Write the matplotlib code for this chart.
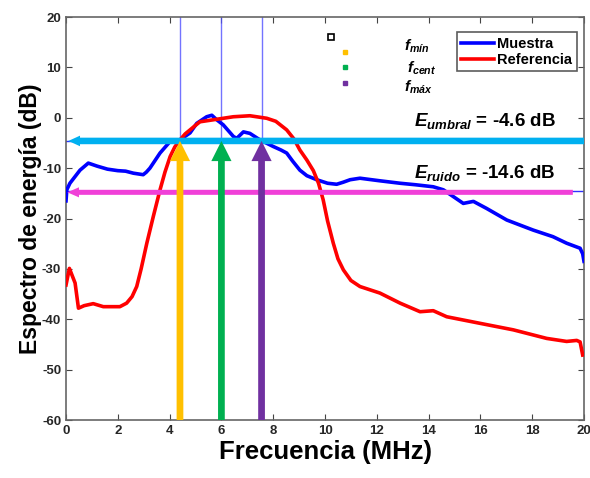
import matplotlib
matplotlib.use("Agg")
import matplotlib.pyplot as plt
import numpy as np

plt.rcParams['font.family'] = ['Liberation Sans', 'DejaVu Sans']
plt.rcParams['font.weight'] = 'bold'
plt.rcParams['axes.unicode_minus'] = False
plt.rcParams['mathtext.fontset'] = 'custom'
plt.rcParams['mathtext.it'] = 'Liberation Sans:italic:bold'
plt.rcParams['mathtext.rm'] = 'Liberation Sans:bold'
plt.rcParams['mathtext.bf'] = 'Liberation Sans:bold'

# espectro de la muestra (MHz, dB)
f_muestra = [0.0, 0.03, 0.15, 0.54, 0.86, 1.2, 1.6, 2.0, 2.3, 2.6, 2.98, 3.1, 3.24,
             3.63, 4.02, 4.40, 4.79, 5.05, 5.43, 5.63, 5.82, 6.07, 6.46, 6.59, 6.85,
             7.10, 7.49, 8.00, 8.3, 8.52, 8.75, 9.03, 9.3, 9.68, 10.1, 10.45, 10.7,
             10.97, 11.35, 12.1, 12.9, 13.5, 14.18, 14.57, 15.34, 15.73, 16.24, 17.02,
             18.04, 18.8, 19.33, 19.85, 19.95, 20.0]
e_muestra = [-16.5, -14.3, -13.0, -10.4, -9.0, -9.6, -10.2, -10.5, -10.6, -11.0, -11.3,
             -10.8, -10.0, -7.0, -4.7, -4.4, -3.0, -1.1, 0.2, 0.5, -0.4, -1.4, -3.7,
             -4.1, -2.8, -3.1, -4.4, -5.7, -6.4, -7.0, -8.6, -10.4, -11.5, -12.3, -13.0,
             -13.2, -12.8, -12.3, -12.0, -12.5, -13.0, -13.3, -13.7, -14.3, -17.0, -16.6,
             -18.0, -20.3, -22.3, -23.6, -24.9, -25.9, -27.0, -28.5]

# espectro de referencia (MHz, dB)
f_ref = [0.0, 0.13, 0.35, 0.48, 0.7, 1.05, 1.44, 2.08, 2.34, 2.55, 2.73, 2.9, 3.12,
         3.37, 3.63, 3.82, 4.02, 4.2, 4.40, 4.6, 4.79, 5.0, 5.17, 5.69, 6.46, 7.10,
         7.75, 8.1, 8.52, 8.8, 9.03, 9.3, 9.55, 9.75, 9.93, 10.1, 10.32, 10.5, 10.71,
         11.0, 11.35, 12.12, 12.9, 13.67, 14.18, 14.7, 15.98, 17.27, 18.56, 19.33,
         19.72, 19.85, 19.95]
e_ref = [-33.2, -29.9, -32.8, -37.8, -37.3, -36.9, -37.5, -37.5, -36.8, -35.5, -33.5,
         -30.0, -24.9, -19.6, -14.3, -10.8, -7.7, -5.8, -4.4, -3.2, -2.4, -1.5, -0.8,
         -0.4, 0.2, 0.4, -0.1, -0.7, -2.4, -4.2, -6.4, -8.4, -10.5, -13.0, -16.3,
         -20.5, -24.9, -28.0, -30.2, -32.3, -33.5, -34.8, -36.8, -38.5, -38.3, -39.5,
         -40.8, -42.1, -43.8, -44.4, -44.2, -44.5, -47.1]

f_min, f_cent, f_max = 4.4, 6.0, 7.55
e_umbral = -4.6
e_ruido = -14.6

fig = plt.figure(figsize=(5.9, 4.78), dpi=100)
ax = fig.add_axes([0.1119, 0.1213, 0.8779, 0.8431])

ax.plot(f_muestra, e_muestra, color='#0000ff', lw=2.6, label='Muestra', zorder=3)
ax.plot(f_ref, e_ref, color='#ff0000', lw=2.6, label='Referencia', zorder=3)

# lineas finas de las frecuencias y niveles
for fx in (f_min, f_cent, f_max):
    ax.axvline(fx, color='#5050ff', lw=1, alpha=0.8, zorder=2)
for ey in (e_umbral, e_ruido):
    ax.axhline(ey, color='#3030ff', lw=1, zorder=2)

# flechas horizontales
ax.arrow(20, e_umbral, 0.09 - 20, 0, width=1.3, head_width=2.1, head_length=0.45,
         length_includes_head=True, color='#00b0f0', lw=0, zorder=4)
ax.arrow(19.57, e_ruido - 0.2, 0.05 - 19.57, 0, width=1.0, head_width=2.0, head_length=0.45,
         length_includes_head=True, color='#f040d8', lw=0, zorder=4)

# flechas verticales
for fx, c in ((f_min, '#ffc000'), (f_cent, '#00b050'), (f_max, '#7030a0')):
    ax.arrow(fx, -60, 0, e_umbral + 60, width=0.26, head_width=0.78, head_length=4.0,
             length_includes_head=True, color=c, lw=0, zorder=5)

ax.set_xlim(0, 20)
ax.set_ylim(-60, 20)
ax.set_xticks(np.arange(0, 21, 2))
ax.set_yticks(np.arange(-60, 21, 10))
ax.tick_params(direction='in', top=True, right=True, labelsize=9.5, length=4,
               color='#444444', width=0.8)
for s in ax.spines.values():
    s.set_color('#666666')
    s.set_linewidth(1.2)
for lab in ax.get_xticklabels() + ax.get_yticklabels():
    lab.set_fontweight('bold')
    lab.set_color('#262626')

ax.set_xlabel('Frecuencia (MHz)', fontsize=18.5, fontweight='bold', labelpad=2)
ax.set_ylabel('Espectro de energía (dB)', fontsize=16.5, fontweight='bold', labelpad=0)

leg = ax.legend(loc='upper right', bbox_to_anchor=(0.986, 0.962), borderaxespad=0,
                fontsize=10.5, frameon=True, fancybox=False, handlelength=2.3,
                handletextpad=0.2, borderpad=0.3, labelspacing=0.15)
leg.get_frame().set_edgecolor('#333333')
leg.get_frame().set_linewidth(1.2)
for t in leg.get_texts():
    t.set_fontweight('bold')

# marcadores de frecuencias
ax.plot([10.23], [16.0], marker='s', ms=4, mfc='white', mec='black', mew=1.2, ls='none')
ax.plot([10.77], [13.0], marker='s', ms=3, color='#ffc000', ls='none')
ax.plot([10.77], [10.0], marker='s', ms=3, color='#00b050', ls='none')
ax.plot([10.77], [6.9], marker='s', ms=3, color='#7030a0', ls='none')
ax.text(13.05, 14.2, r'$f_{mín}$', fontsize=11, va='center', ha='left')
ax.text(13.15, 9.8, r'$f_{cent}$', fontsize=11, va='center', ha='left')
ax.text(13.05, 6.0, r'$f_{máx}$', fontsize=11, va='center', ha='left')

ax.text(18.9, -0.6, r'$E_{umbral}$' + ' = -4.6 dB', fontsize=13.5, ha='right', va='center',
        fontweight='bold')
ax.text(18.9, -10.9, r'$E_{ruido}$' + ' = -14.6 dB', fontsize=13.5, ha='right', va='center',
        fontweight='bold')

fig.savefig('out.png', dpi=100)
